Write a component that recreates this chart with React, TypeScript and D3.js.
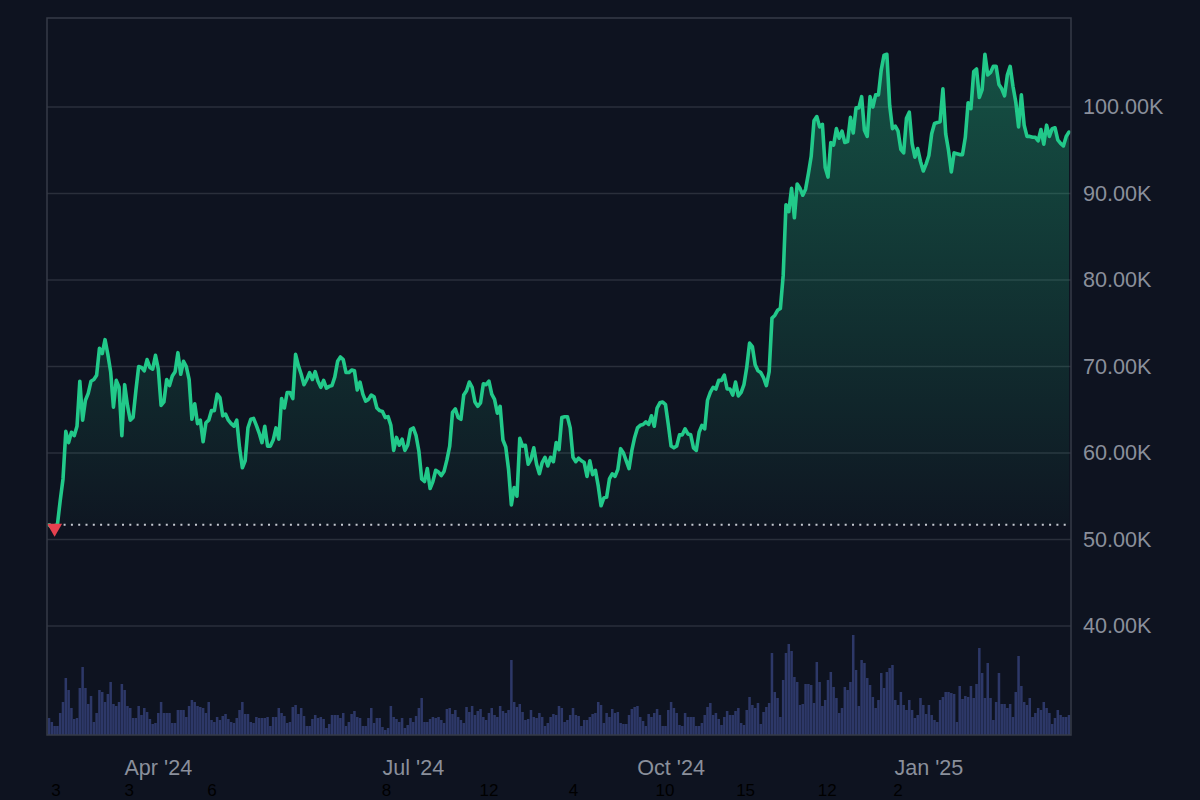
import React from "react";
import * as d3 from "d3";

// ---------- data ----------
const START_DATE = "2024-02-22";

// daily close, thousands of USD (one value per day from START_DATE)
const PRICES_K = [
  51.7, 51.4, 51.6, 51.7, 54.5, 57.0, 62.5, 61.2, 62.4, 62.0,
  63.1, 68.3, 63.8, 66.1, 66.9, 68.3, 68.5, 69.0, 72.1, 71.5,
  73.1, 71.4, 69.4, 65.3, 68.4, 67.6, 62.0, 67.9, 65.5, 63.8,
  64.1, 67.2, 70.0, 69.9, 69.5, 70.8, 69.9, 69.7, 71.3, 69.7,
  65.5, 65.9, 68.5, 67.8, 68.9, 69.4, 71.6, 69.1, 70.6, 70.0,
  68.5, 63.9, 65.7, 63.4, 63.8, 61.3, 63.5, 63.8, 64.9, 64.9,
  66.8, 66.4, 64.3, 64.5, 63.8, 63.4, 63.1, 63.8, 60.6, 58.3,
  59.1, 62.9, 63.9, 64.0, 63.2, 62.3, 61.2, 63.1, 60.8, 60.8,
  61.5, 62.9, 61.6, 66.3, 65.2, 67.0, 67.0, 66.3, 71.4, 70.1,
  69.1, 67.9, 68.5, 69.3, 68.5, 69.4, 68.3, 67.6, 68.4, 67.5,
  67.7, 67.8, 68.8, 70.6, 71.1, 70.8, 69.3, 69.3, 69.6, 69.5,
  67.3, 68.2, 66.8, 66.0, 66.2, 66.7, 66.5, 65.2, 64.9, 64.8,
  64.1, 64.2, 63.2, 60.3, 61.8, 60.9, 61.6, 60.3, 60.9, 62.7,
  62.9, 62.0, 60.2, 57.0, 56.7, 58.2, 55.9, 56.7, 58.0, 57.8,
  57.4, 57.9, 59.2, 60.8, 64.7, 65.1, 64.1, 63.9, 66.7, 67.2,
  68.2, 67.6, 65.9, 65.4, 65.8, 68.0, 67.9, 68.3, 66.8, 66.2,
  64.6, 65.4, 61.5, 60.7, 58.1, 54.0, 56.0, 55.0, 61.7, 60.8,
  60.9, 58.7, 59.3, 60.6, 58.7, 57.6, 58.9, 59.5, 58.5, 59.5,
  59.0, 61.2, 60.4, 64.1, 64.2, 64.2, 62.9, 59.5, 59.0, 59.4,
  59.1, 58.9, 57.3, 59.1, 57.5, 58.0, 56.2, 53.9, 54.8, 54.9,
  57.0, 57.6, 57.3, 58.1, 60.5, 60.0, 59.1, 58.2, 60.3, 61.8,
  62.9, 63.2, 63.3, 63.6, 63.3, 64.3, 63.1, 65.2, 65.8, 65.9,
  65.6, 63.3, 60.8, 60.6, 60.8, 62.1, 62.1, 62.8, 62.2, 62.1,
  60.6, 60.3, 62.4, 63.2, 62.8, 66.1, 67.0, 67.6, 67.4, 68.4,
  68.4, 69.0, 67.4, 67.4, 66.7, 68.2, 66.6, 67.0, 67.9, 69.9,
  72.7, 72.3, 70.2, 69.5, 69.3, 68.7, 67.8, 69.4, 75.6, 75.9,
  76.5, 76.7, 80.5, 88.7, 87.9, 90.6, 87.2, 91.1, 90.6, 89.8,
  90.5, 92.3, 94.3, 98.4, 98.9, 97.7, 98.0, 93.0, 91.9, 95.9,
  95.6, 97.5, 96.4, 97.2, 95.9, 96.0, 98.8, 97.0, 99.9, 99.9,
  101.2, 97.3, 96.6, 101.2, 100.0, 101.4, 101.4, 104.3, 106.0, 106.1,
  100.2, 97.5, 97.8, 97.2, 95.1, 94.7, 98.7, 99.4, 95.8, 94.2,
  95.2, 93.7, 92.6, 93.4, 94.4, 96.9, 98.1, 98.2, 98.3, 102.1,
  96.9, 95.0, 92.5, 94.7, 94.6, 94.5, 94.5, 96.5, 100.5, 99.8,
  104.1, 104.4, 101.1, 102.0, 106.1, 103.7, 104.0, 104.7, 104.7, 102.6,
  102.1, 101.3, 103.7, 104.7, 102.4, 100.6, 97.7, 101.4, 97.9, 96.6,
  96.6, 96.5, 96.5, 96.1, 97.4, 95.7, 97.9, 96.6, 97.5, 97.6,
  96.2, 95.8, 95.5, 96.6, 97.1,
];

// daily volume (billions)
const VOLUMES_B = [
  17, 13, 9, 9, 22, 33, 57, 45, 27, 16,
  17, 47, 68, 47, 31, 39, 13, 22, 45, 43,
  33, 41, 53, 31, 29, 33, 51, 45, 29, 27,
  17, 17, 29, 20, 27, 23, 16, 11, 12, 22,
  33, 22, 22, 22, 12, 12, 25, 25, 25, 18,
  29, 35, 33, 29, 28, 27, 22, 33, 15, 13,
  18, 15, 19, 21, 16, 13, 12, 17, 25, 33,
  21, 21, 13, 12, 18, 17, 17, 17, 18, 9,
  18, 18, 27, 22, 19, 12, 13, 28, 30, 21,
  27, 19, 9, 9, 16, 20, 17, 18, 16, 7,
  11, 20, 20, 20, 17, 22, 9, 13, 21, 24,
  18, 17, 9, 9, 17, 27, 12, 17, 17, 8,
  5, 7, 29, 18, 16, 13, 17, 7, 10, 17,
  13, 19, 27, 37, 13, 13, 16,
  18, 17, 18, 15, 12, 26, 27, 21, 25, 18,
  15, 12, 28, 23, 29, 20, 24, 26, 18, 15,
  22, 27, 20, 18, 29, 24, 22, 25, 75, 33,
  28, 31, 23, 15, 16, 25, 18, 17, 22, 18,
  9, 12, 18, 21, 20, 29, 27, 13, 15, 20,
  27, 20, 19, 9, 15, 15, 18, 21, 22, 33,
  30, 12, 22, 18, 26, 22, 23, 12, 11, 11,
  20, 26, 28, 29, 18, 14, 9, 21, 18, 22,
  26, 20, 9, 9, 25, 33, 27, 22, 10, 9,
  22, 18, 18, 18, 9, 9,
  12, 20, 28, 32, 20, 22, 16, 10, 18, 24,
  20, 20, 24, 27, 12, 10, 25, 38, 30, 27,
  32, 11, 23, 28, 32, 82, 43, 37, 18, 55,
  82, 91, 84, 58, 53, 30, 31, 51, 51, 50,
  32, 73, 53, 29, 35, 55, 63, 48, 37, 22,
  27, 48, 45, 53, 100, 65, 29, 75, 72, 57,
  50, 38, 27, 35, 62, 47, 63, 67, 70, 35,
  30, 43, 30, 25, 35, 25, 17, 20, 37, 30,
  21, 30, 20, 15, 13, 35, 38, 43, 43, 42,
  41, 13, 49, 36, 39, 38, 49, 37, 51, 87,
  62, 37, 72, 37, 15, 33, 62, 31, 31, 27,
  31, 18, 43, 79, 49, 33, 30, 37, 18, 22,
  27, 25, 33, 27, 22, 11, 17, 25, 20, 18,
  18, 20,
];

const Y_TICKS = [40000, 50000, 60000, 70000, 80000, 90000, 100000];
const Y_DOMAIN = [27400, 110290];
const VOL_DOMAIN = [0, 100];

// dark numbers below the time axis (label, day offset from START_DATE)
const EXTRA_LABELS = ["3", "3", "6", "8", "12", "4", "10", "15", "12", "2"];
const EXTRA_LABEL_DAYS = [2.5, 28.6, 58.2, 120.4, 157, 187.2, 219.8, 248.6, 277.7, 303];

const MARKER_INDEX = 2;

// ---------- styles ----------
const BG = "#0e1320";
const GRID = "#2a2f3b";
const FRAME = "#363b47";
const TEXT = "#8a8f9b";
const LINE = "#22c98a";
const VOL = "#2d3868";
const DOTS = "#c5c9d1";
const MARK = "#e5414f";
const FONT = "'Liberation Sans', Arial, Helvetica, sans-serif";

type D = { date: Date; price: number; vol: number };

export default function App() {
  const W = 1200;
  const H = 800;
  const plot = { left: 47, right: 1071, top: 18, bottom: 735 };
  const dataRange: [number, number] = [49, 1069];

  const start = new Date(START_DATE + "T00:00:00Z");
  const n = Math.min(PRICES_K.length, VOLUMES_B.length);
  const data: D[] = d3.range(n).map((i) => ({
    date: d3.utcDay.offset(start, i),
    price: PRICES_K[i] * 1000,
    vol: VOLUMES_B[i],
  }));

  const x = d3
    .scaleUtc()
    .domain([data[0].date, data[n - 1].date])
    .range(dataRange);
  const y = d3.scaleLinear().domain(Y_DOMAIN).range([plot.bottom, plot.top]);
  const yv = d3.scaleLinear().domain(VOL_DOMAIN).range([plot.bottom, plot.bottom - 100]);

  const baseline = data[0].price;
  const yBase = y(baseline);

  const line = d3
    .line<D>()
    .x((d) => x(d.date))
    .y((d) => y(d.price));
  const area = d3
    .area<D>()
    .x((d) => x(d.date))
    .y0(yBase)
    .y1((d) => y(d.price));

  const step = x(data[1].date) - x(data[0].date);
  const barW = step * 0.9;

  const xTicks = x.ticks(d3.utcMonth.every(3) as any);
  const fmt = d3.utcFormat("%b '%y");

  const m = data[MARKER_INDEX];
  const mx = x(m.date);
  const my = y(m.price);
  const markerPath = `M${mx - 7.5},${my - 2}L${mx + 7.5},${my - 2}L${mx},${my + 11}Z`;

  return (
    <div style={{ position: "fixed", left: 0, top: 0, width: W, height: H }}>
      <svg width={W} height={H} style={{ display: "block", fontFamily: FONT }}>
        <defs>
          <linearGradient
            id="areaGrad"
            gradientUnits="userSpaceOnUse"
            x1="0"
            x2="0"
            y1={y(108000)}
            y2={yBase}
          >
            <stop offset="0%" stopColor={LINE} stopOpacity={0.35} />
            <stop offset="100%" stopColor={LINE} stopOpacity={0.02} />
          </linearGradient>
          <clipPath id="plotClip">
            <rect
              x={plot.left}
              y={plot.top}
              width={plot.right - plot.left}
              height={plot.bottom - plot.top}
            />
          </clipPath>
        </defs>
        <rect x={0} y={0} width={W} height={H} fill={BG} />

        {/* grid */}
        {Y_TICKS.map((t) => (
          <line
            key={t}
            x1={plot.left}
            x2={plot.right}
            y1={y(t)}
            y2={y(t)}
            stroke={GRID}
            strokeWidth={1.5}
          />
        ))}

        <g clipPath="url(#plotClip)">
          {/* volume */}
          {data.map((d, i) => (
            <rect
              key={i}
              x={x(d.date) - barW / 2}
              y={yv(d.vol)}
              width={barW}
              height={plot.bottom - yv(d.vol)}
              fill={VOL}
            />
          ))}

          {/* area */}
          <path d={area(data) || ""} fill="url(#areaGrad)" />

          {/* baseline price line */}
          <line
            x1={dataRange[0]}
            x2={dataRange[1] - 2}
            y1={yBase}
            y2={yBase}
            stroke={DOTS}
            strokeWidth={2}
            strokeDasharray="2 5.3"
          />

          {/* price line */}
          <path
            d={line(data) || ""}
            fill="none"
            stroke={LINE}
            strokeWidth={3.6}
            strokeLinejoin="round"
            strokeLinecap="round"
          />

          {/* marker */}
          <path d={markerPath} fill={MARK} />
        </g>

        {/* frame */}
        <rect
          x={plot.left}
          y={plot.top}
          width={plot.right - plot.left}
          height={plot.bottom - plot.top}
          fill="none"
          stroke={FRAME}
          strokeWidth={1.5}
        />

        {/* y labels */}
        {Y_TICKS.map((t) => (
          <text
            key={t}
            x={1083}
            y={y(t)}
            dy="0.33em"
            fill={TEXT}
            fontSize={21.6}
          >
            {(t / 1000).toFixed(2) + "K"}
          </text>
        ))}

        {/* x labels */}
        {xTicks.map((t) => (
          <text
            key={+t}
            x={x(t)}
            y={775}
            textAnchor="middle"
            fill={TEXT}
            fontSize={21.6}
          >
            {fmt(t)}
          </text>
        ))}

        {/* dark numbers below axis */}
        {EXTRA_LABELS.map((s, i) => (
          <text
            key={i}
            x={x(new Date(+start + EXTRA_LABEL_DAYS[i] * 86400000))}
            y={795.5}
            textAnchor="middle"
            fill="#000"
            fontSize={17}
          >
            {s}
          </text>
        ))}
      </svg>
    </div>
  );
}
